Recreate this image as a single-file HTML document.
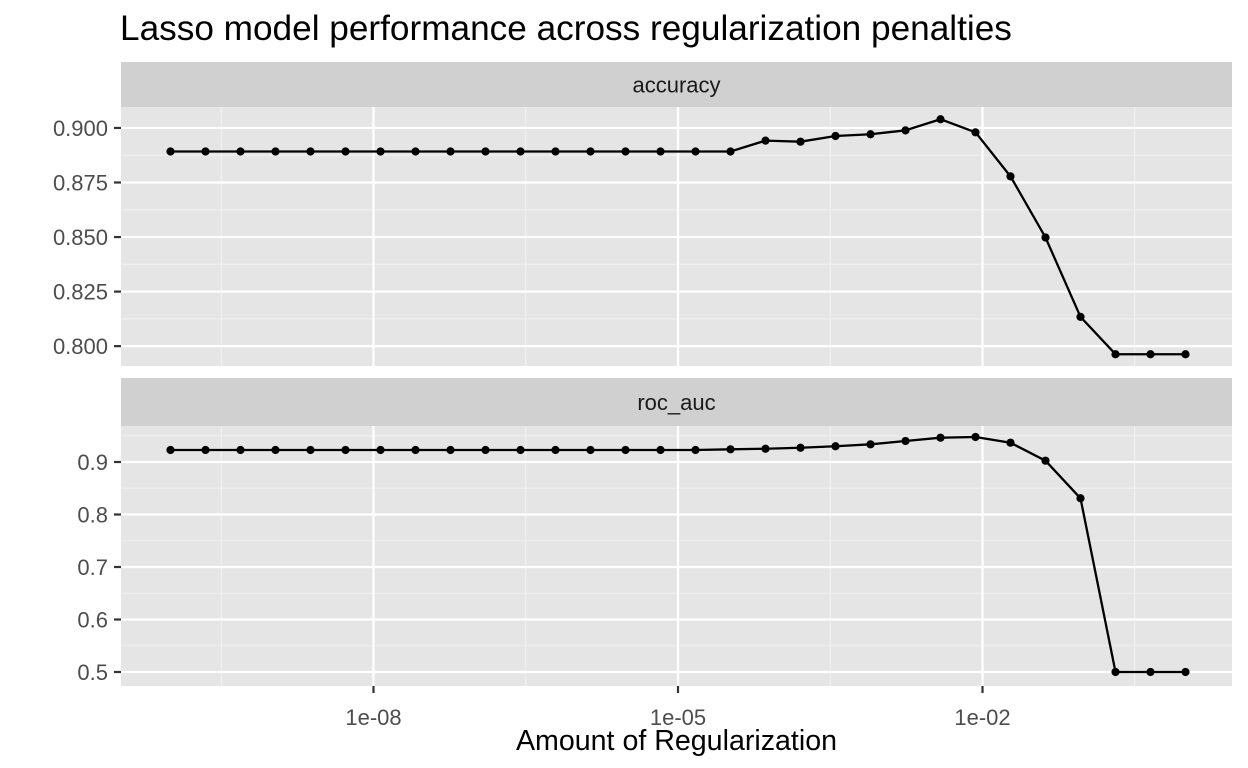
<!DOCTYPE html>
<html><head><meta charset="utf-8"><style>
body{margin:0;background:#fff;}
svg{display:block;font-family:"Liberation Sans",Arial,sans-serif;}
</style></head><body>
<svg id="chart" width="1248" height="768"></svg>
<script>
const logPenalty = Array.from({length:30},(_,i)=>-10+i*10/29);
const accuracyValues=[0.8892,0.8892,0.8892,0.8892,0.8892,0.8892,0.8892,0.8892,0.8892,0.8892,0.8892,0.8892,0.8892,0.8892,0.8892,0.8892,0.8892,0.8942,0.8937,0.8963,0.8971,0.8989,0.9040,0.8980,0.8778,0.8498,0.8134,0.7963,0.7963,0.7963];
const rocValues=[0.9229,0.9229,0.9229,0.9229,0.9229,0.9229,0.9229,0.9229,0.9229,0.9229,0.9229,0.9229,0.9229,0.9229,0.9229,0.9229,0.9242,0.9253,0.9272,0.9300,0.9337,0.9400,0.9463,0.9476,0.9368,0.9025,0.8309,0.5,0.5,0.5];
const xTickExps=[-8,-5,-2];
const xTickLabels=["1e-08","1e-05","1e-02"];
const accTicks=[0.800,0.825,0.850,0.875,0.900];
const accTickLabels=["0.800","0.825","0.850","0.875","0.900"];
const rocTicks=[0.5,0.6,0.7,0.8,0.9];
const rocTickLabels=["0.5","0.6","0.7","0.8","0.9"];

const NS="http://www.w3.org/2000/svg";
const svg=document.getElementById('chart');
function mk(tag,attrs,parent){const e=document.createElementNS(NS,tag);for(const k in attrs)e.setAttribute(k,attrs[k]);(parent||svg).appendChild(e);return e;}
const L=121,R=1232;
const xs=e=>170.5+(e+10)*101.5;

const tt=mk('text',{x:120,y:40,'font-size':35.2,fill:'#000'});tt.textContent='Lasso model performance across regularization penalties';



function panel(name,stripTop,top,bottom,vTop,vBot,ticks,labels,vals){
  const ys=v=>top+(vTop-v)/(vTop-vBot)*(bottom-top);
  const g=mk('g',{});
  
  
  const strip=mk('rect',{x:L,y:stripTop,width:R-L,height:top-stripTop,fill:'#d0d0d0'},g);
  
  
  const st=mk('text',{x:(L+R)/2,y:(stripTop+top)/2+8,'text-anchor':'middle','font-size':22,fill:'#1a1a1a'},g);st.textContent=name;
  
  
  mk('rect',{x:L,y:top,width:R-L,height:bottom-top,fill:'#e5e5e5'},g);
  for(let i=0;i<ticks.length-1;i++){const y=ys((ticks[i]+ticks[i+1])/2);mk('line',{x1:L,x2:R,y1:y,y2:y,stroke:'#f2f2f2','stroke-width':1.1},g);}
  const step=ticks[1]-ticks[0];
  [ticks[0]-step/2,ticks[ticks.length-1]+step/2].forEach(v=>{const y=ys(v);if(y>top&&y<bottom)mk('line',{x1:L,x2:R,y1:y,y2:y,stroke:'#f2f2f2','stroke-width':1.1},g);});
  [-9.5,-6.5,-3.5,-0.5].forEach(e=>{const x=xs(e);mk('line',{x1:x,x2:x,y1:top,y2:bottom,stroke:'#f2f2f2','stroke-width':1.1},g);});
  xTickExps.forEach(e=>{const x=xs(e);mk('line',{x1:x,x2:x,y1:top,y2:bottom,stroke:'#fff','stroke-width':2.2},g);});
  ticks.forEach((v,i)=>{const y=ys(v);mk('line',{x1:L,x2:R,y1:y,y2:y,stroke:'#fff','stroke-width':2.2},g);
    mk('line',{x1:L-7,x2:L,y1:y,y2:y,stroke:'#333','stroke-width':2.2},g);
    const t=mk('text',{x:L-13,y:y+8,'text-anchor':'end','font-size':22,fill:'#4d4d4d'},g);t.textContent=labels[i];
    
    });
  const pts=vals.map((v,i)=>[xs(logPenalty[i]),ys(v)]);
  const line=mk('polyline',{points:pts.map(p=>p.join(',')).join(' '),fill:'none',stroke:'#000','stroke-width':2.3},g);
  
  
  pts.forEach(p=>{const c=mk('circle',{cx:p[0],cy:p[1],r:4.1,fill:'#000'},g);
    
    });
}
panel('accuracy',62,107,366,0.9096,0.7909,accTicks,accTickLabels,accuracyValues);
panel('roc_auc',378,426,686,0.9686,0.4733,rocTicks,rocTickLabels,rocValues);

xTickExps.forEach((e,i)=>{const x=xs(e);mk('line',{x1:x,x2:x,y1:686,y2:693,stroke:'#333','stroke-width':2.2});
  const t=mk('text',{x:x,y:725,'text-anchor':'middle','font-size':22,fill:'#4d4d4d'});t.textContent=xTickLabels[i];
  
  });
const xt=mk('text',{x:(L+R)/2,y:750,'text-anchor':'middle','font-size':28.6,fill:'#000'});xt.textContent='Amount of Regularization';


</script>
</body></html>
